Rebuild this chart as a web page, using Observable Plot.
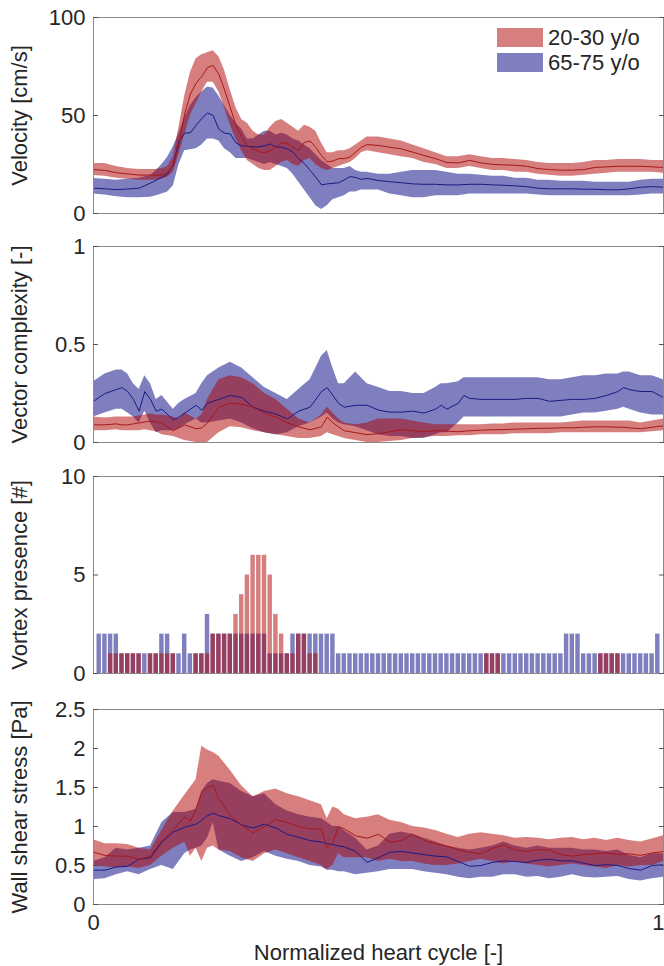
<!DOCTYPE html>
<html><head><meta charset="utf-8">
<script src="https://cdn.jsdelivr.net/npm/d3@7"></script>
<script src="https://cdn.jsdelivr.net/npm/@observablehq/plot@0.6"></script>
<style>
body{margin:0;background:#fff;}
#wrap{position:relative;width:664px;height:966px;overflow:hidden;font-family:"Liberation Sans",Arial,sans-serif;}
.panel{position:absolute;left:0;}
.legend{position:absolute;left:497px;top:28px;font-size:22px;color:#262626;line-height:19px;}
.legend .row{display:flex;align-items:center;height:19px;margin-bottom:6px;}
.legend .sw{width:46px;height:19px;margin-right:5px;}
</style></head><body><div id="wrap"></div>
<script>
// ---------- Panel 1: Velocity [cm/s] ----------
const velT = [0,0.02,0.04,0.06,0.08,0.10,0.11,0.12,0.13,0.14,0.15,0.16,0.17,0.18,0.19,0.20,0.21,0.22,0.23,0.24,0.25,0.26,0.27,0.28,0.29,0.30,0.31,0.32,0.33,0.34,0.35,0.36,0.37,0.38,0.39,0.40,0.41,0.42,0.43,0.44,0.45,0.46,0.47,0.48,0.50,0.52,0.54,0.56,0.58,0.60,0.62,0.64,0.66,0.68,0.70,0.72,0.74,0.76,0.78,0.80,0.82,0.84,0.86,0.88,0.90,0.92,0.94,0.96,0.98,1.00];
const velYoungMean = [22.4,22,20.8,20.2,19.6,19.6,19.5,19.6,21,24.5,35,51,61,66.5,70,74.5,75.5,71,63,54,45,39,34.7,33,31.5,31,32,33.8,36.3,35.5,33.8,32,36.3,37,33.8,29.6,26.3,26.8,28,28,28.8,31.3,33.8,35.2,34.7,33.8,33,31.3,29.6,28,26,25.8,27.1,25.8,25.1,24.8,24.6,24.1,22.9,22.4,22.1,22.1,22.4,23.5,23.8,24.1,24.1,24.1,23.8,23.5];
const velYoungLo = [19.4,19,18,17.5,17,17,17,17.5,18.5,21,30,40,50,56,62,67,67,62,54,45,38,32,27,25,23,22,22,24,26,27,25,24,27,28,25,23,22,23,24,25,26,28,31,32,31,30,29,28,26,25,23,23,24,23,22,22,21,21,20,19.5,19,19,19.5,20,20.5,21,21,21,21,20.5];
const velYoungHi = [25.5,25.5,24,23,22.5,22.5,22.5,23,24,29,44,60,72,79,81,82,83,80,73,63,54,48,46,42,40,40,44,47,48,46,44,42,45,44,42,36,31,31,32,32,33,35,37,39,39,38,37,35,33,31,29,29,30,29,28,28,27.5,27,26,25.5,25.5,25.5,26,27,27,27.5,27.5,27.5,27,27];
const velOldMean = [12.9,12.6,12.2,12.5,12.9,15.5,17,18.5,20.2,25,37,41,41.2,45,48.5,51.3,50,43,41,40.6,36,34.5,34.4,34,34,34.5,35.5,34,33.8,33,31.3,28,25.5,22,18.5,14.6,15.1,15.4,15.7,17.1,18.8,18.4,17.4,17.9,16.8,16.2,15.7,15.1,14.9,14.9,14.6,14.6,14.9,14.9,14.6,14.4,14.1,13.7,12.9,12.6,12.6,12.6,12.4,12.4,12.1,12.1,12.6,13.4,13.7,13.4];
const velOldLo = [10,9.5,8.5,8,8,8.3,9,10,11,14,25,32,32.5,33,35,38,38,37,33,31,28,28,28,27,26,25,26,25,24,23,20,16,12,8,4,2,4,7,8,9,11,11,12,12,12,10,9,8,8,9,9,9,10,10,10,10,10,10,9.5,9,9,9,9,9,9,9,9,9.5,10,10];
const velOldHi = [17.9,17.5,17,17.5,18,19.4,22,25,28.7,34,41,49,55,59,62,64.5,64,60,55,50,46,43,38,38,40,42,42,40,41,40,38,37,35,33,30,27,25,23,23,23,24,22,21,21,20,20,21,22,22,22,21,20,20,19.5,19,19,18,18,17,17,16.5,16.5,16.5,16,16,16,16,17,17.5,17.5];
const velTicks = [0,50,100];

// ---------- Panel 2: Vector complexity [-] ----------
const vcT = [0,0.02,0.04,0.05,0.06,0.07,0.08,0.09,0.10,0.11,0.12,0.14,0.15,0.16,0.18,0.19,0.20,0.22,0.24,0.26,0.28,0.30,0.32,0.34,0.36,0.38,0.40,0.41,0.42,0.43,0.44,0.46,0.48,0.50,0.52,0.54,0.56,0.58,0.60,0.61,0.62,0.64,0.65,0.66,0.68,0.70,0.72,0.74,0.76,0.78,0.80,0.82,0.84,0.86,0.88,0.90,0.92,0.93,0.94,0.96,0.98,1.00];
const vcOldMean = [.21,.25,.27,.28,.26,.22,.16,.26,.22,.16,.17,.115,.13,.15,.19,.165,.2,.22,.24,.23,.18,.16,.145,.12,.16,.18,.26,.28,.24,.2,.18,.19,.19,.165,.155,.155,.16,.15,.17,.19,.17,.2,.24,.225,.22,.22,.22,.22,.225,.225,.21,.215,.22,.22,.225,.24,.26,.28,.27,.26,.26,.23];
const vcOldLo = [.13,.15,.17,.17,.15,.13,.10,.16,.10,.05,.06,.06,.07,.09,.12,.10,.10,.11,.12,.10,.07,.05,.04,.05,.08,.10,.13,.15,.12,.10,.09,.08,.06,.04,.03,.03,.02,.02,.04,.05,.05,.10,.13,.13,.13,.13,.13,.13,.13,.13,.13,.13,.14,.15,.15,.16,.17,.18,.17,.15,.14,.14];
const vcOldHi = [.31,.35,.37,.37,.35,.30,.27,.34,.30,.22,.24,.17,.20,.22,.25,.30,.34,.38,.41,.38,.33,.28,.25,.22,.27,.32,.44,.47,.38,.30,.30,.36,.30,.28,.26,.26,.25,.25,.28,.30,.30,.31,.33,.33,.33,.33,.33,.33,.33,.33,.32,.32,.33,.34,.34,.35,.35,.36,.36,.34,.34,.32];
const vcYoungMean = [.09,.09,.095,.09,.09,.095,.1,.105,.11,.105,.1,.06,.075,.09,.07,.075,.1,.18,.2,.195,.18,.15,.13,.1,.08,.065,.08,.13,.1,.08,.06,.05,.04,.045,.055,.065,.06,.055,.06,.06,.058,.055,.058,.06,.063,.065,.066,.068,.07,.072,.073,.075,.075,.078,.08,.08,.078,.078,.075,.07,.078,.085];
const vcYoungLo = [.06,.06,.065,.06,.06,.06,.06,.065,.06,.055,.04,.03,.02,.01,0,0,0,.05,.08,.075,.06,.05,.04,.03,.02,.02,.03,.05,.04,.03,.02,.01,0,0,.005,.01,.02,.025,.03,.03,.03,.035,.035,.035,.04,.04,.04,.045,.045,.045,.045,.05,.05,.05,.05,.05,.05,.05,.05,.05,.055,.06];
const vcYoungHi = [.13,.125,.13,.13,.13,.13,.135,.14,.145,.14,.14,.13,.12,.15,.12,.14,.22,.32,.34,.33,.30,.25,.22,.17,.12,.10,.14,.18,.15,.12,.10,.09,.10,.12,.12,.12,.11,.10,.09,.09,.09,.09,.09,.09,.09,.095,.095,.10,.10,.10,.10,.10,.105,.11,.11,.11,.11,.11,.11,.10,.11,.12];
const vcTicks = [0,0.5,1];

// ---------- Panel 3: Vortex presence [#] (one bar per frame) ----------
const vortexOld = [2,2,2,2,1,1,1,1,1,1,1,2,2,1,1,2,1,1,1,3,2,2,2,2,2,2,2,2,2,2,1,1,1,1,2,2,2,2,2,2,2,2,1,1,1,1,1,1,1,1,1,1,1,1,1,1,1,1,1,1,1,1,1,1,1,1,1,1,1,1,1,1,1,1,1,1,1,1,1,1,1,1,2,2,2,1,1,1,1,1,1,1,1,1,1,1,1,1,2];
const vortexYoung = [0,0,1,1,1,1,1,1,0,1,1,1,1,1,0,0,0,1,1,1,2,2,2,2,3,4,5,6,6,6,5,3,2,1,1,2,2,1,1,0,0,0,0,0,0,0,0,0,0,0,0,0,0,0,0,0,0,0,0,0,0,0,0,0,0,0,0,0,1,1,1,0,0,0,0,0,0,0,0,0,0,0,0,0,0,0,0,0,1,1,1,1,0,0,0,0,0,0,0];
const vortexTicks = [0,5,10];

// ---------- Panel 4: Wall shear stress [Pa] ----------
const wssT = [0,0.02,0.04,0.06,0.08,0.10,0.12,0.14,0.16,0.17,0.18,0.19,0.20,0.21,0.22,0.24,0.26,0.28,0.30,0.32,0.34,0.36,0.38,0.40,0.41,0.42,0.43,0.44,0.46,0.48,0.50,0.52,0.54,0.56,0.58,0.60,0.62,0.64,0.66,0.68,0.70,0.72,0.74,0.76,0.78,0.80,0.82,0.84,0.86,0.88,0.90,0.92,0.94,0.96,0.98,1.00];
const wssYoungMean = [.67,.63,.62,.62,.58,.62,.82,.96,1.12,1.07,1.22,1.44,1.5,1.53,1.35,1.14,1.02,.92,1.0,1.09,1.05,1.0,.97,.97,.72,.8,1.0,.97,.88,.85,.9,.8,.82,.9,.82,.78,.75,.7,.67,.65,.72,.76,.70,.68,.7,.7,.64,.62,.64,.65,.66,.64,.65,.63,.66,.68];
const wssYoungLo = [.5,.48,.47,.48,.46,.5,.62,.72,.8,.62,.72,.55,.72,.75,.7,.68,.6,.55,.65,.7,.65,.6,.55,.5,.45,.5,.65,.6,.6,.6,.55,.58,.55,.55,.52,.5,.5,.52,.55,.58,.55,.52,.55,.52,.5,.48,.5,.52,.5,.48,.46,.5,.48,.5,.5,.55];
const wssYoungHi = [.83,.78,.78,.77,.72,.7,.95,1.2,1.4,1.5,1.6,2.03,1.98,1.95,1.9,1.72,1.52,1.38,1.45,1.48,1.42,1.38,1.33,1.28,1.1,1.25,1.22,1.15,1.1,1.12,1.15,1.08,1.05,1.0,.98,.95,.9,.86,.9,.92,.9,.88,.85,.86,.85,.83,.85,.86,.83,.85,.82,.85,.82,.8,.84,.88];
const wssOldMean = [.44,.44,.48,.49,.58,.6,.8,.93,.99,1.01,1.03,1.08,1.14,1.17,1.14,1.1,1.02,.98,1.03,.98,.9,.86,.82,.8,.78,.77,.75,.74,.68,.54,.6,.67,.68,.66,.64,.62,.61,.55,.49,.5,.54,.56,.55,.54,.57,.58,.56,.56,.53,.5,.51,.5,.46,.44,.5,.51];
const wssOldLo = [.32,.33,.38,.42,.38,.45,.5,.45,.65,.7,.72,.75,.85,1.05,.7,.62,.55,.6,.68,.62,.58,.55,.5,.48,.44,.44,.42,.42,.38,.4,.42,.45,.45,.45,.42,.4,.38,.35,.33,.35,.35,.38,.38,.35,.36,.33,.35,.38,.35,.34,.35,.36,.32,.3,.33,.35];
const wssOldHi = [.55,.6,.72,.7,.72,.75,1.05,1.18,1.18,1.2,1.22,1.45,1.55,1.6,1.58,1.55,1.45,1.38,1.42,1.28,1.2,1.15,1.12,1.1,1.05,1.0,1.0,.95,.85,.7,.75,.9,.93,.9,.85,.8,.75,.72,.7,.72,.75,.8,.75,.72,.75,.72,.72,.72,.7,.7,.68,.7,.63,.6,.65,.65];
const wssTicks = [0,0.5,1,1.5,2,2.5];

const xTicks = [0,1];
const groupLabels = ["20-30 y/o","65-75 y/o"];

// ---------- styling ----------
const RED = "#b00000", BLUE = "#000080", ALPHA = 0.5;
const RED_LINE = "#a81818", BLUE_LINE = "#1a1a85";
const FONT = '"Liberation Sans", Arial, sans-serif';
const FS = "22px";
const fmt = d3.format("~g");

function rows(t, m, lo, hi){ return t.map((x,i)=>({t:x, m:m[i], lo:lo[i], hi:hi[i]})); }

function bandMarks(young, old){
  return [
    Plot.areaY(old, {x:"t", y1:"lo", y2:"hi", fill:BLUE, fillOpacity:ALPHA}),
    Plot.areaY(young, {x:"t", y1:"lo", y2:"hi", fill:RED, fillOpacity:ALPHA}),
    Plot.line(old, {x:"t", y:"m", stroke:BLUE_LINE, strokeWidth:1}),
    Plot.line(young, {x:"t", y:"m", stroke:RED_LINE, strokeWidth:1})
  ];
}

function panel({top, height, mt, mb, domain, ticks, label, marks, xaxis}){
  const axes = [
    Plot.frame({stroke:"#8a8a8a"}),
    Plot.axisY(ticks, {tickSize:0, tickPadding:8, tickFormat:fmt, label, labelAnchor:"center", labelOffset:82, labelArrow:"none"}),
    Plot.axisY(ticks, {tickSize:-5, text:null, label:null, stroke:"#555"}),
    Plot.axisY(ticks, {anchor:"right", tickSize:-5, text:null, label:null, stroke:"#555"})
  ];
  if (xaxis) {
    axes.push(Plot.axisX(xTicks.slice(0,1), {tickSize:0, tickPadding:10, tickFormat:fmt, label:"Normalized heart cycle [-]", labelAnchor:"center", labelOffset:55, labelArrow:"none"}));
    axes.push(Plot.axisX(xTicks.slice(1), {tickSize:0, tickPadding:10, tickFormat:fmt, textAnchor:"end", dx:1, label:null}));
  }
  const p = Plot.plot({
    width:664, height, marginTop:mt, marginBottom:mb, marginLeft:93, marginRight:1,
    style:{fontFamily:FONT, fontSize:FS, color:"#262626", background:"transparent", overflow:"visible"},
    x: xaxis ? {domain:[0,1]} : {domain:[0,1], axis:null},
    y: {domain},
    marks: [...marks, ...axes]
  });
  const d = document.createElement("div");
  d.className = "panel"; d.style.top = top + "px";
  d.appendChild(p);
  document.getElementById("wrap").appendChild(d);
}

// Panel 1
panel({top:0, height:230, mt:17, mb:17, domain:[0,100], ticks:velTicks, label:"Velocity [cm/s]",
  marks: bandMarks(rows(velT, velYoungMean, velYoungLo, velYoungHi), rows(velT, velOldMean, velOldLo, velOldHi))});

// Panel 2
panel({top:230, height:230, mt:16, mb:18, domain:[0,1], ticks:vcTicks, label:"Vector complexity [-]",
  marks: bandMarks(rows(vcT, vcYoungMean, vcYoungLo, vcYoungHi), rows(vcT, vcOldMean, vcOldLo, vcOldHi))});

// Panel 3
const barsOld = vortexOld.map((v,i)=>({t:(i+1)/100, v})).filter(d=>d.v>0);
const barsYoung = vortexYoung.map((v,i)=>({t:(i+1)/100, v})).filter(d=>d.v>0);
const hw = 0.0039;
panel({top:460, height:230, mt:16, mb:17, domain:[0,10], ticks:vortexTicks, label:"Vortex presence [#]",
  marks: [
    Plot.rectY(barsOld, {x1:d=>d.t-hw, x2:d=>d.t+hw, y1:0, y2:"v", fill:BLUE, fillOpacity:ALPHA}),
    Plot.rectY(barsYoung, {x1:d=>d.t-hw, x2:d=>d.t+hw, y1:0, y2:"v", fill:RED, fillOpacity:ALPHA})
  ]});

// Panel 4
panel({top:690, height:276, mt:19, mb:62, domain:[0,2.5], ticks:wssTicks, label:"Wall shear stress [Pa]", xaxis:true,
  marks: bandMarks(rows(wssT, wssYoungMean, wssYoungLo, wssYoungHi), rows(wssT, wssOldMean, wssOldLo, wssOldHi))});

// Legend (panel 1)
const leg = document.createElement("div");
leg.className = "legend";
[[RED, groupLabels[0]],[BLUE, groupLabels[1]]].forEach(([c, txt])=>{
  const r = document.createElement("div"); r.className = "row";
  const s = document.createElement("div"); s.className = "sw";
  s.style.background = c; s.style.opacity = ALPHA;
  const t = document.createElement("span"); t.textContent = txt;
  r.appendChild(s); r.appendChild(t); leg.appendChild(r);
});
document.getElementById("wrap").appendChild(leg);
</script></body></html>
